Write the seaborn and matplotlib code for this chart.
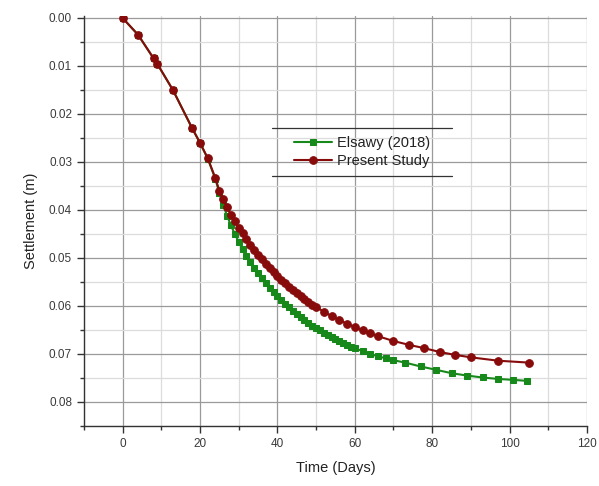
import matplotlib
matplotlib.use("Agg")
import matplotlib.pyplot as plt
import seaborn as sns
import pandas as pd
from matplotlib.lines import Line2D
from matplotlib.ticker import MultipleLocator

# Elsawy (2018)
elsawy_days = [0, 4, 8, 9, 13, 18, 20, 22, 24, 25, 26, 27, 28, 29, 30, 31, 32, 33, 34, 35,
               36, 37, 38, 39, 40, 41, 42, 43, 44, 45, 46, 47, 48, 49, 50, 51, 52, 53, 54,
               55, 56, 57, 58, 59, 60, 62, 64, 66, 68, 70, 73, 77, 81, 85, 89, 93, 97, 101, 104.5]
elsawy_settle = [0.0, 0.0035, 0.0084, 0.0096, 0.015, 0.023, 0.026, 0.0293, 0.0336, 0.0365,
                 0.0390, 0.0412, 0.0432, 0.0450, 0.0466, 0.0481, 0.0495, 0.0508, 0.0520, 0.0531,
                 0.0542, 0.0552, 0.0562, 0.0571, 0.0580, 0.0588, 0.0596, 0.0603, 0.0610, 0.0617,
                 0.0623, 0.0629, 0.0635, 0.0641, 0.0646, 0.0651, 0.0656, 0.0660, 0.0665,
                 0.0669, 0.0673, 0.0677, 0.0681, 0.0685, 0.0688, 0.0694, 0.0700, 0.0705, 0.0709,
                 0.0713, 0.0718, 0.0726, 0.0733, 0.0740, 0.0745, 0.0749, 0.0752, 0.0754, 0.0756]

# Present Study
present_days = [0, 4, 8, 9, 13, 18, 20, 22, 24, 25, 26, 27, 28, 29, 30, 31, 32, 33, 34, 35,
                36, 37, 38, 39, 40, 41, 42, 43, 44, 45, 46, 47, 48, 49, 50, 52, 54, 56, 58,
                60, 62, 64, 66, 70, 74, 78, 82, 86, 90, 97, 105]
present_settle = [0.0, 0.0035, 0.0084, 0.0096, 0.015, 0.023, 0.026, 0.0292, 0.0334, 0.0360,
                  0.0378, 0.0394, 0.0410, 0.0424, 0.0437, 0.0449, 0.0461, 0.0472, 0.0483, 0.0493,
                  0.0503, 0.0512, 0.0521, 0.0530, 0.0538, 0.0546, 0.0553, 0.0560, 0.0567, 0.0574,
                  0.0580, 0.0586, 0.0592, 0.0597, 0.0602, 0.0612, 0.0621, 0.0629, 0.0637,
                  0.0644, 0.0651, 0.0657, 0.0663, 0.0673, 0.0681, 0.0688, 0.0696, 0.0702, 0.0707,
                  0.0714, 0.0718]

x_ticks = [0, 20, 40, 60, 80, 100, 120]
y_ticks = [0.00, 0.01, 0.02, 0.03, 0.04, 0.05, 0.06, 0.07, 0.08]

green = '#17891b'
dark_red = '#870b0b'

sns.set_style("ticks")
plt.rcParams['font.family'] = ['Liberation Sans', 'DejaVu Sans']

fig = plt.figure(figsize=(5.99, 4.86), dpi=100)
ax = fig.add_axes([0.140, 0.1235, 0.840, 0.8445])

df_e = pd.DataFrame({'t': elsawy_days, 's': elsawy_settle})
df_p = pd.DataFrame({'t': present_days, 's': present_settle})

sns.lineplot(data=df_e, x='t', y='s', ax=ax, color=green, marker='s', markersize=5,
             markeredgecolor=green, linewidth=1.5, label='Elsawy (2018)', zorder=3)
sns.lineplot(data=df_p, x='t', y='s', ax=ax, color=dark_red, marker='o', markersize=5.5,
             markeredgecolor=dark_red, linewidth=1.5, label='Present Study', zorder=4)

ax.set_xlim(-10, 120)
ax.set_ylim(0.085, -0.0005)
ax.set_xticks(x_ticks)
ax.set_yticks(y_ticks)
ax.set_yticklabels([f'{v:.2f}' for v in y_ticks])
ax.xaxis.set_minor_locator(MultipleLocator(10))
ax.yaxis.set_minor_locator(MultipleLocator(0.005))

ax.grid(True, which='major', color='#9a9a9a', linewidth=0.9)
ax.grid(True, which='minor', color='#dcdcdc', linewidth=0.9)
ax.set_axisbelow(True)

for side in ['top', 'right']:
    ax.spines[side].set_visible(False)
for side in ['left', 'bottom']:
    ax.spines[side].set_color('#333333')
    ax.spines[side].set_linewidth(1.0)

ax.tick_params(which='major', direction='out', length=5, width=1, colors='#333333',
               labelsize=8.5, labelcolor='#3a3a3a')
ax.tick_params(which='minor', direction='out', length=3, width=1, colors='#333333')

ax.set_xlabel('Time (Days)', fontsize=10.5, color='#222222', labelpad=8)
ax.set_ylabel('Settlement (m)', fontsize=10.5, color='#222222', labelpad=8)

leg = ax.legend(loc='center', bbox_to_anchor=(0.553, 0.667), frameon=False,
                fontsize=10.5, handlelength=2.6, handletextpad=0.3, labelspacing=0.25)
for txt in leg.get_texts():
    txt.set_color('#222222')

# Origin-style legend rules above and below the entries
for yy in (0.726, 0.609):
    ax.add_line(Line2D([0.374, 0.732], [yy, yy], transform=ax.transAxes,
                       color='#333333', linewidth=0.9, zorder=5))

fig.savefig('out.png', dpi=100)
